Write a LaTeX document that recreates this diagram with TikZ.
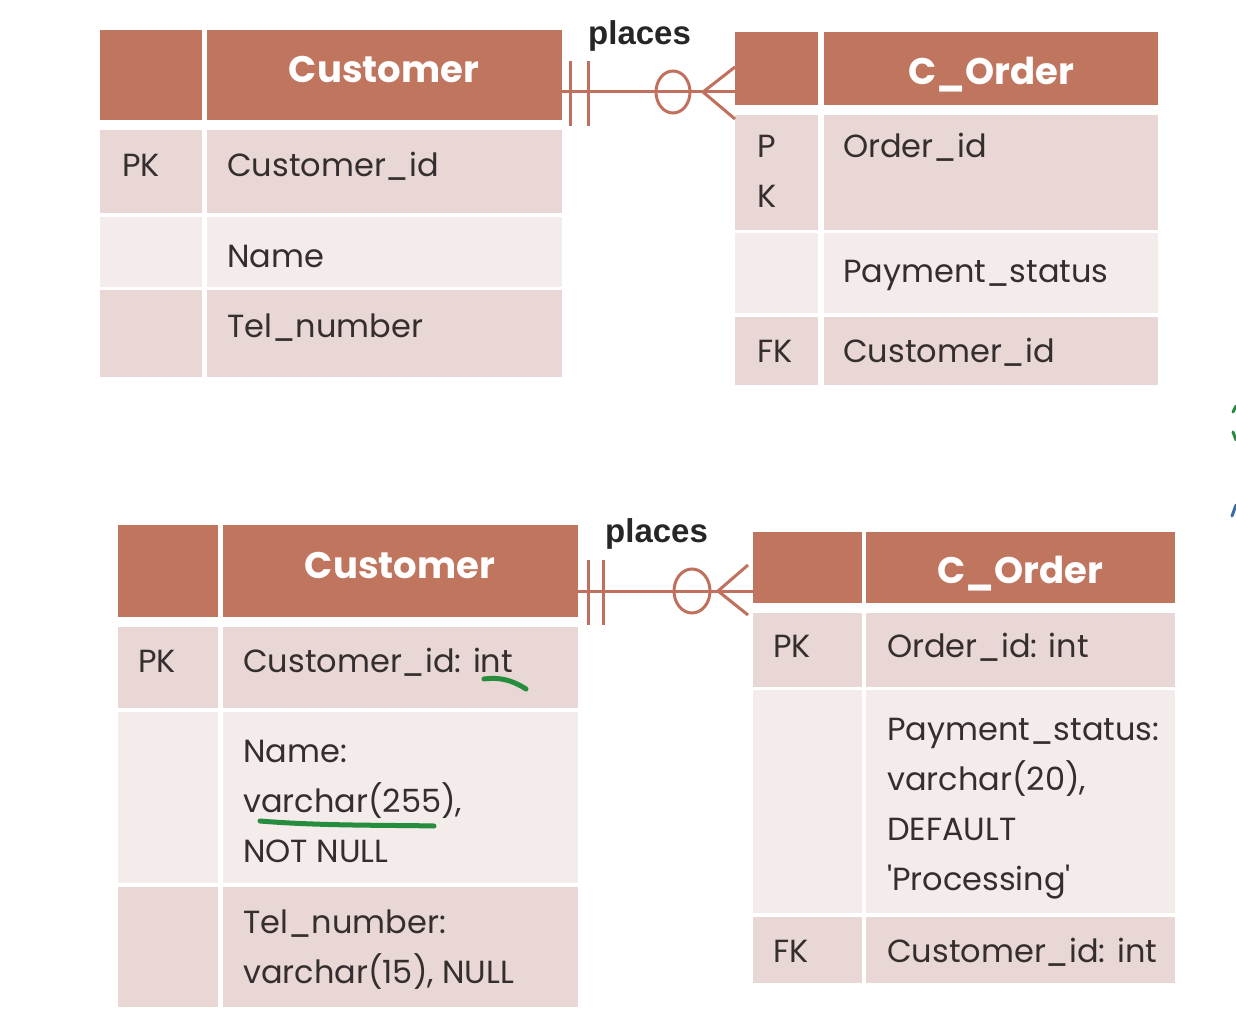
\documentclass[tikz,border=0pt]{standalone}
\usepackage{fontspec}
\setmainfont{Poppins}
\newfontfamily\placesfont{Liberation Sans}
\usetikzlibrary{calc}
\definecolor{hdr}{RGB}{192,117,95}
\definecolor{rowdark}{RGB}{232,215,212}
\definecolor{rowlight}{RGB}{244,236,234}
\definecolor{relline}{RGB}{192,112,92}
\definecolor{txt}{RGB}{52,46,46}
\definecolor{penGreen}{RGB}{38,140,62}
\definecolor{penBlue}{RGB}{60,110,170}
\newcommand\mlines[1]{\vtop{\baselineskip=50pt\lineskiplimit=-100pt\lineskip=0pt\halign{##\hfil\cr#1\crcr}}}
\newcommand\cellbox[6]{\node[tcell,fill=#6,minimum width={#4-#2},minimum height={#5-#3}] (#1) at ({(#2+#4)/2},{(#3+#5)/2}) {};}
\tikzset{
  tcell/.style={draw=none,inner sep=0pt,outer sep=0pt,rectangle},
  lbl/.style={font=\fontsize{32}{50}\selectfont,text=txt,inner sep=0pt,anchor=base west},
  hdrtxt/.style={font=\bfseries\fontsize{37}{40}\selectfont,text=white,inner sep=0pt,anchor=base},
  reltxt/.style={font=\placesfont\bfseries\fontsize{33}{36}\selectfont,text=black!85,inner sep=0pt,anchor=base west},
  rel/.style={draw=relline,line width=3pt},
  pen/.style={line width=5pt,line cap=round}
}
\begin{document}
\begin{tikzpicture}[x=1pt,y=-1pt]
\useasboundingbox[fill=white] (0,0) rectangle (1236,1032);

% ---------- top Customer ----------
\cellbox{TAhL}{100}{30}{202}{120}{hdr}
\cellbox{TAhR}{207}{30}{562}{120}{hdr}
\cellbox{TAaL}{100}{130}{202}{213}{rowdark}
\cellbox{TAaR}{207}{130}{562}{213}{rowdark}
\cellbox{TAbL}{100}{217}{202}{287}{rowlight}
\cellbox{TAbR}{207}{217}{562}{287}{rowlight}
\cellbox{TAcL}{100}{290}{202}{377}{rowdark}
\cellbox{TAcR}{207}{290}{562}{377}{rowdark}
\node[hdrtxt] (TAt) at (384,83) {Customer};
\node[lbl] (TApk) at (122,177) {PK};
\node[lbl] (TA1) at (227,177) {Customer\_id};
\node[lbl] (TA2) at (227,267) {Name};
\node[lbl] (TA3) at (227,337) {Tel\_number};

% ---------- top C_Order ----------
\cellbox{TBhL}{735}{32}{818}{105}{hdr}
\cellbox{TBhR}{824}{32}{1158}{105}{hdr}
\cellbox{TBaL}{735}{115}{818}{230}{rowdark}
\cellbox{TBaR}{824}{115}{1158}{230}{rowdark}
\cellbox{TBbL}{735}{233}{818}{313}{rowlight}
\cellbox{TBbR}{824}{233}{1158}{313}{rowlight}
\cellbox{TBcL}{735}{317}{818}{385}{rowdark}
\cellbox{TBcR}{824}{317}{1158}{385}{rowdark}
\node[hdrtxt] (TBt) at (991,85) {C\_Order};
\node[lbl] (TBpk) at (757,158) {\mlines{P\cr K}};
\node[lbl] (TB1) at (843,158) {Order\_id};
\node[lbl] (TB2) at (843,282) {Payment\_status};
\node[lbl] (TBfk) at (757,362) {FK};
\node[lbl] (TB3) at (843,362) {Customer\_id};

% ---------- top relationship ----------
\node[reltxt] (TRl) at (588,45) {places};
\coordinate (TRs) at ([yshift=-17pt]TAhR.east);
\coordinate (TRe) at (TBhL.west |- TRs);
\draw[rel] (TRs) -- (TRe);
\draw[rel] ($(TRs)+(8,-31)$) -- ($(TRs)+(8,34)$);
\draw[rel] ($(TRs)+(26,-31)$) -- ($(TRs)+(26,34)$);
\draw[rel] ($(TRe)+(-62,0)$) ellipse [x radius=17, y radius=21];
\draw[rel] ($(TRe)+(0,-25)$) -- ($(TRe)+(-32,0)$) -- ($(TRe)+(0,27)$);

% ---------- bottom Customer ----------
\cellbox{BAhL}{118}{525}{218}{617}{hdr}
\cellbox{BAhR}{223}{525}{578}{617}{hdr}
\cellbox{BAaL}{118}{627}{218}{708}{rowdark}
\cellbox{BAaR}{223}{627}{578}{708}{rowdark}
\cellbox{BAbL}{118}{712}{218}{883}{rowlight}
\cellbox{BAbR}{223}{712}{578}{883}{rowlight}
\cellbox{BAcL}{118}{887}{218}{1007}{rowdark}
\cellbox{BAcR}{223}{887}{578}{1007}{rowdark}
\node[hdrtxt] (BAt) at (400,578) {Customer};
\node[lbl] (BApk) at (138,672) {PK};
\node[lbl] (BA1) at (243,672) {Customer\_id: int};
\node[lbl] (BA2) at (243,762) {\mlines{Name:\cr varchar(255),\cr NOT NULL}};
\node[lbl] (BA3) at (243,933) {\mlines{Tel\_number:\cr varchar(15), NULL}};
\draw[pen,draw=penGreen] (484,679) .. controls (500,677) and (512,680) .. (526,689);
\draw[pen,draw=penGreen] (260,821) .. controls (320,826) and (390,825) .. (434,826);

% ---------- bottom C_Order ----------
\cellbox{BBhL}{753}{532}{862}{603}{hdr}
\cellbox{BBhR}{866}{532}{1175}{603}{hdr}
\cellbox{BBaL}{753}{613}{862}{687}{rowdark}
\cellbox{BBaR}{866}{613}{1175}{687}{rowdark}
\cellbox{BBbL}{753}{690}{862}{913}{rowlight}
\cellbox{BBbR}{866}{690}{1175}{913}{rowlight}
\cellbox{BBcL}{753}{917}{862}{983}{rowdark}
\cellbox{BBcR}{866}{917}{1175}{983}{rowdark}
\node[hdrtxt] (BBt) at (1020,583) {C\_Order};
\node[lbl] (BBpk) at (773,657) {PK};
\node[lbl] (BB1) at (887,657) {Order\_id: int};
\node[lbl] (BB2) at (887,740) {\mlines{Payment\_status:\cr varchar(20),\cr DEFAULT\cr \textquotesingle Processing\textquotesingle}};
\node[lbl] (BBfk) at (773,962) {FK};
\node[lbl] (BB3) at (887,962) {Customer\_id: int};

% ---------- bottom relationship ----------
\node[reltxt] (BRl) at (605,542) {places};
\coordinate (BRs) at ([yshift=-20pt]BAhR.east);
\coordinate (BRe) at (BBhL.west |- BRs);
\draw[rel] (BRs) -- (BRe);
\draw[rel] ($(BRs)+(10,-31)$) -- ($(BRs)+(10,34)$);
\draw[rel] ($(BRs)+(25,-31)$) -- ($(BRs)+(25,34)$);
\draw[rel] ($(BRe)+(-61,0)$) ellipse [x radius=18, y radius=22];
\draw[rel] ($(BRe)+(-5,-26)$) -- ($(BRe)+(-35,0)$) -- ($(BRe)+(-5,24)$);

% ---------- cropped pen marks at right edge ----------
\draw[pen,draw=penGreen,line width=3pt] (1233,412) -- (1236,406);
\draw[pen,draw=penGreen,line width=3pt] (1233,432) -- (1236,440);
\draw[pen,draw=penBlue,line width=3pt] (1232,516) -- (1236,505);
\end{tikzpicture}
\end{document}
